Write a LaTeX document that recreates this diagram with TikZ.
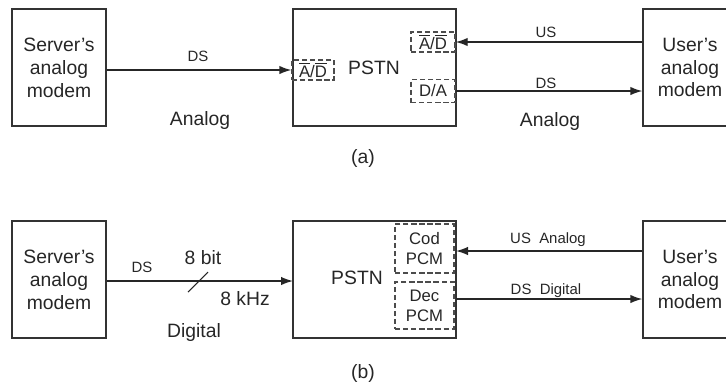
\documentclass[tikz,border=0pt]{standalone}
\usepackage{fontspec}
\setmainfont{Liberation Sans}
\usepackage{tikz}
\usetikzlibrary{arrows.meta}

\tikzset{
  modem/.style={draw=black!80,line width=0.8pt,inner sep=0pt,minimum width=1.88cm,minimum height=2.34cm,align=center,font=\fontsize{11}{13}\selectfont},
  exch/.style={draw=black!80,line width=0.8pt,inner sep=0pt,minimum width=3.26cm,minimum height=2.34cm},
  conv/.style={draw=black!70,dash pattern=on 3pt off 1.6pt,line width=0.8pt,inner sep=0pt,align=center,font=\fontsize{9.5}{11.5}\selectfont},
  sig/.style={font=\fontsize{8.5}{10}\selectfont,inner sep=0pt},
  kind/.style={font=\fontsize{11}{13}\selectfont,inner sep=0pt}
}
\newcommand{\bartwo}{$\overline{\hbox{A}}$/$\overline{\hbox{D}}$}

\begin{document}
\begin{tikzpicture}[x=0.02cm,y=-0.02cm,>={Latex[length=2.4mm,width=1.7mm]},black!85]
\useasboundingbox (0,0) rectangle (726,387);

% (a) analog path
\node[modem] (srvA) at (59,67.5) {Server's\\analog\\modem};
\node[exch] (pstnA) at (374.5,67.5) {};
\node[modem] (usrA) at (690,67.5) {User's\\analog\\modem};
\node[kind] (pstnAt) at (374,68) {PSTN};
\node[conv,minimum width=0.84cm,minimum height=0.4cm] (adL) at (313,70) {\bartwo};
\node[conv,minimum width=0.88cm,minimum height=0.4cm] (adR) at (433,42) {\bartwo};
\node[conv,minimum width=0.88cm,minimum height=0.46cm] (daR) at (433,91) {D/A};
\draw[->,line width=0.8pt] (srvA.east |- adL.west) -- (adL.west);
\draw[->,line width=0.8pt] (usrA.west |- adR.east) -- (adR.east);
\draw[->,line width=0.8pt] (daR.east) -- (daR.east -| usrA.west);
\node[sig] (dsA) at (198,56) {DS};
\node[sig] (usA) at (546,32) {US};
\node[sig] (dsA2) at (546,83) {DS};
\node[kind] (anA) at (200,120) {Analog};
\node[kind] (anA2) at (550,121) {Analog};
\node[kind] (capA) at (363,158) {(a)};

% (b) digital path
\node[modem] (srvB) at (59,279.5) {Server's\\analog\\modem};
\node[exch] (pstnB) at (374.5,279.5) {};
\node[modem] (usrB) at (690,279.5) {User's\\analog\\modem};
\node[kind] (pstnBt) at (357,278) {PSTN};
\node[conv,minimum width=1.18cm,minimum height=0.98cm] (codB) at (424.5,248.5) {Cod\\PCM};
\node[conv,minimum width=1.18cm,minimum height=0.94cm] (decB) at (424.5,305.5) {Dec\\PCM};
\coordinate (inB) at (293,281);
\coordinate (usB) at (456,251);
\coordinate (dsB) at (456,299);
\coordinate (slB) at (198,282);
\draw[->,line width=0.8pt] (srvB.east |- inB) -- (inB);
\draw[line width=0.6pt] ([shift={(-10,10)}]slB) -- ([shift={(10,-10)}]slB);
\draw[->,line width=0.8pt] (usrB.west |- usB) -- (usB);
\draw[->,line width=0.8pt] (dsB) -- (dsB -| usrB.west);
\node[sig] (dsB1) at (142,267) {DS};
\node[kind] (bitB) at (203,258) {8 bit};
\node[kind] (khzB) at (245,299) {8 kHz};
\node[kind] (digB) at (194,332) {Digital};
\node[sig] (usB1) at (548,240) {US\ \ Analog};
\node[sig] (dsB2) at (546,291) {DS\ \ Digital};
\node[kind] (capB) at (363,373) {(b)};
\end{tikzpicture}
\end{document}
